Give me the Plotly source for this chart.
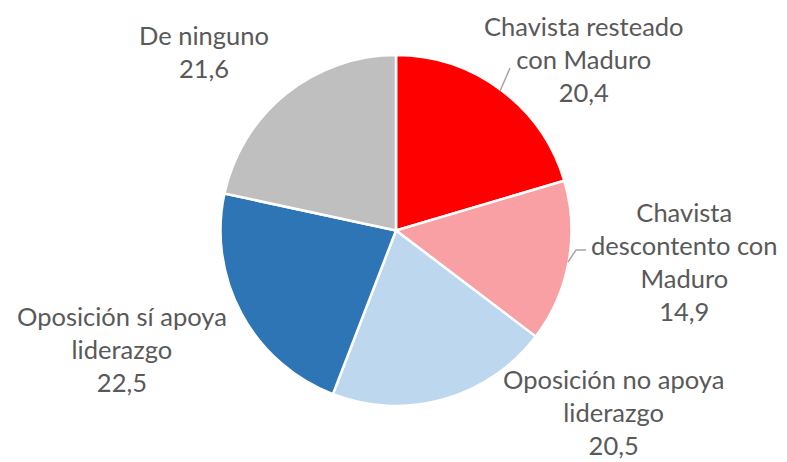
import plotly.graph_objects as go

labels = ["Chavista resteado<br>con Maduro", "Chavista<br>descontento con<br>Maduro",
          "Oposición no apoya<br>liderazgo", "Oposición sí apoya<br>liderazgo", "De ninguno"]
values = [20.4, 14.9, 20.5, 22.5, 21.6]
colors = ["#FF0000", "#F8A0A4", "#BDD7EE", "#2E75B6", "#BFBFBF"]

W, H = 787, 462
# label centres (pixels from top-left) -- layout only
label_pos = [(584, 59), (684, 261), (613, 412), (122, 349), (204, 52)]

fig = go.Figure(go.Pie(
    labels=labels, values=values, sort=False, direction="clockwise", rotation=0,
    marker=dict(colors=colors, line=dict(color="white", width=2.5)),
    textinfo="none",
    domain=dict(x=[220 / W, 572 / W], y=[1 - 406 / H, 1 - 55 / H]),
    showlegend=False, hoverinfo="label+value",
))

fmt = lambda v: f"{v:.1f}".replace(".", ",")
annotations = []
for lab, v, (px, py) in zip(labels, values, label_pos):
    annotations.append(dict(
        x=px / W, y=1 - py / H, xref="paper", yref="paper",
        text=f"{lab}<br>{fmt(v)}", showarrow=False,
        xanchor="center", yanchor="middle", align="center",
        font=dict(family="Lato", size=25.5, color="#595959"),
    ))

# leader lines
leaders = [[(500, 91), (510, 68)], [(568, 262), (576, 250), (586, 250)]]
shapes = []
for pts in leaders:
    path = "M " + " L ".join(f"{x / W},{1 - y / H}" for x, y in pts)
    shapes.append(dict(type="path", xref="paper", yref="paper", path=path,
                       line=dict(color="#A6A6A6", width=1.5)))

fig.update_layout(width=W, height=H, margin=dict(l=0, r=0, t=0, b=0),
                  paper_bgcolor="white", separators=",.",
                  annotations=annotations, shapes=shapes)
fig.write_html("out.html", config={"displayModeBar": False},
               post_script="document.body.style.margin='0';")
